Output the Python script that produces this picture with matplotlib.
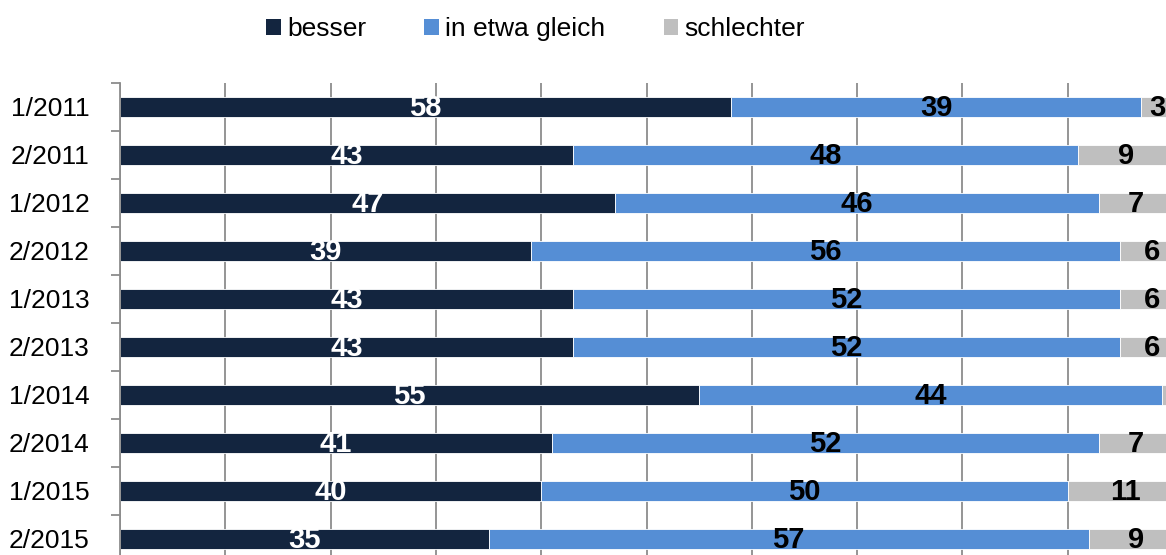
import matplotlib
matplotlib.use("Agg")
import matplotlib.pyplot as plt
from matplotlib.patches import Patch

# Daten
CATEGORIES = ["1/2011", "2/2011", "1/2012", "2/2012", "1/2013",
              "2/2013", "1/2014", "2/2014", "1/2015", "2/2015"]
BESSER = [58, 43, 47, 39, 43, 43, 55, 41, 40, 35]
GLEICH = [39, 48, 46, 56, 52, 52, 44, 52, 50, 57]
SCHLECHTER = [3, 9, 7, 6, 6, 6, 2, 7, 11, 9]
SERIES_NAMES = ["besser", "in etwa gleich", "schlechter"]
COLORS = ["#13253f", "#558ed5", "#bfbfbf"]
LABEL_COLORS = ["white", "black", "black"]

plt.rcParams["font.family"] = ["Liberation Sans", "DejaVu Sans"]

fig = plt.figure(figsize=(11.66, 5.55), dpi=100)
ax = fig.add_axes([120 / 1166, -8 / 555, 1053 / 1166, 480 / 555])

y = list(range(len(CATEGORIES)))
left = [0] * len(CATEGORIES)
for name, vals, color, lcolor in zip(SERIES_NAMES, [BESSER, GLEICH, SCHLECHTER], COLORS, LABEL_COLORS):
    ax.barh(y, vals, left=left, height=0.4, color=color,
            edgecolor="white", linewidth=0.6, label=name, zorder=2)
    for yi, l, v in zip(y, left, vals):
        ax.text(l + v / 2, yi + 0.03, str(v), ha="center", va="center",
                color=lcolor, fontsize=21, fontweight="bold", zorder=3)
    left = [a + b for a, b in zip(left, vals)]

ax.set_xlim(0, 100)
ax.set_ylim(len(CATEGORIES) - 0.5, -0.5)
ax.set_xticks(range(0, 101, 10))
ax.xaxis.grid(True, color="#8c8c8c", linewidth=1.3, zorder=0)
ax.set_axisbelow(True)
ax.tick_params(axis="x", length=0, labelbottom=False)

ax.set_yticks(y)
ax.set_yticklabels(CATEGORIES, fontsize=19)
ax.set_yticks([i - 0.5 for i in range(len(CATEGORIES) + 1)], minor=True)
ax.tick_params(axis="y", which="major", length=0, pad=22)
ax.tick_params(axis="y", which="minor", length=6.5, width=1.3, color="#8c8c8c")

for side in ["top", "right", "bottom"]:
    ax.spines[side].set_visible(False)
ax.spines["left"].set_color("#8c8c8c")
ax.spines["left"].set_linewidth(1.3)

handles = [Patch(facecolor=c, edgecolor="none") for c in COLORS]
fig.legend(handles, SERIES_NAMES, loc="center left", bbox_to_anchor=(266 / 1166, 1 - 29 / 555),
           ncol=3, frameon=False, fontsize=19, handlelength=0.55, handleheight=0.55,
           handletextpad=0.25, columnspacing=2.2, borderpad=0, borderaxespad=0)

fig.savefig("out.png", dpi=100)
